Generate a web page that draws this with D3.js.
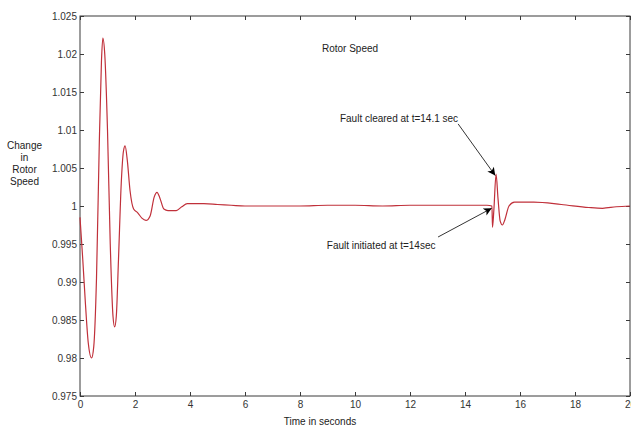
<!DOCTYPE html>
<html><head><meta charset="utf-8">
<script src="https://cdn.jsdelivr.net/npm/d3@7"></script>
<style>
html,body{margin:0;padding:0;background:#fff;overflow:hidden;}
text{font-family:"Liberation Sans",Arial,sans-serif;}
</style></head>
<body>
<svg id="c" width="631" height="427"></svg>
<script>
const timeValues = [0,0.1,0.2,0.3,0.42,0.5,0.6,0.7,0.78,0.83,0.9,1.0,1.1,1.2,1.26,1.32,1.4,1.5,1.58,1.64,1.72,1.82,1.95,2.1,2.25,2.4,2.55,2.7,2.8,2.9,3.05,3.2,3.5,3.7,3.9,4.5,5.0,5.5,6,7,8,9,10,11,12,13,14,14.8,14.98,15.0,15.05,15.13,15.2,15.28,15.36,15.45,15.6,15.8,16.5,17.5,18.5,19.0,19.5,20];
const speedValues = [0.9985,0.993,0.987,0.982,0.980,0.9815,0.9905,1.008,1.019,1.0221,1.020,1.010,0.995,0.9855,0.9841,0.9855,0.993,1.003,1.0072,1.0079,1.006,1.002,0.9996,0.9991,0.9984,0.9981,0.9987,1.0012,1.0018,1.0011,0.9996,0.9994,0.9994,0.9999,1.0003,1.0003,1.0002,1.0001,1.0,1.0,1.0,1.0001,1.0001,1.0,1.0001,1.0001,1.0001,1.0001,1.0,0.9972,0.9995,1.0042,1.001,0.998,0.9975,0.9982,1.0,1.0005,1.0005,1.0002,0.9998,0.9997,0.9999,1.0];
const xTickValues = [0,2,4,6,8,10,12,14,16,18,20];
const yTickValues = [0.975,0.98,0.985,0.99,0.995,1,1.005,1.01,1.015,1.02,1.025];
const yLabelLines = ["Change","in","Rotor","Speed"];
const annotTexts = ["Fault cleared at t=14.1 sec","Fault initiated at t=14sec"];
const annotTextPos = [[11.6,1.0111],[10.95,0.99434]];
const annotArrowFrom = [[13.75,1.0108],[13.02,0.99592]];
const annotArrowTo = [[15.1,1.0040],[14.97,0.9997]];

const W=631,H=427, m={l:80,t:16,r:1,b:31};
const svg=d3.select("#c");
const x=d3.scaleLinear().domain([0,20]).range([m.l,W-m.r]);
const y=d3.scaleLinear().domain([0.975,1.025]).range([H-m.b,m.t]);
const axisColor="#3a3a3a";

// frame
svg.append("rect").attr("x",x(0)).attr("y",y(1.025)).attr("width",x(20)-x(0)).attr("height",y(0.975)-y(1.025))
  .attr("fill","none").attr("stroke",axisColor).attr("stroke-width",1);

function styleAxis(g,showLabels){
  g.select(".domain").remove();
  g.selectAll("line").attr("stroke",axisColor);
  g.selectAll("text").attr("fill","#333").style("font-size","10px").style("font-family","'Liberation Sans',Arial,sans-serif");
  if(!showLabels) g.selectAll("text").remove();
}
svg.append("g").attr("transform",`translate(0,${y(0.975)})`)
  .call(d3.axisBottom(x).tickValues(xTickValues).tickSize(-4).tickPadding(5).tickFormat(d=>String(d)))
  .call(g=>styleAxis(g,true));
svg.append("g").attr("transform",`translate(0,${y(1.025)})`)
  .call(d3.axisTop(x).tickValues(xTickValues).tickSize(-4))
  .call(g=>styleAxis(g,false));
svg.append("g").attr("transform",`translate(${x(0)},0)`)
  .call(d3.axisLeft(y).tickValues(yTickValues).tickSize(-4).tickPadding(3).tickFormat(d=>String(+d.toFixed(3))))
  .call(g=>styleAxis(g,true));
svg.append("g").attr("transform",`translate(${x(20)},0)`)
  .call(d3.axisRight(y).tickValues(yTickValues).tickSize(-4))
  .call(g=>styleAxis(g,false));

// line
const data=timeValues.map((t,i)=>[t,speedValues[i]]);
svg.append("path").datum(data)
  .attr("d",d3.line().x(d=>x(d[0])).y(d=>y(d[1])).curve(d3.curveMonotoneX))
  .attr("fill","none").attr("stroke","#c0303a").attr("stroke-width",1.2);

// title & labels
svg.append("text").attr("x",350).attr("y",52).attr("text-anchor","middle").attr("fill","#222").style("font-size","10px").text("Rotor Speed");
svg.append("text").attr("x",320).attr("y",425).attr("text-anchor","middle").attr("fill","#222").style("font-size","10px").text("Time in seconds");
yLabelLines.forEach((s,i)=>{
  svg.append("text").attr("x",24.5).attr("y",148.5+i*12).attr("text-anchor","middle").attr("fill","#222").style("font-size","10px").text(s);
});

// arrows
const defs=svg.append("defs");
defs.append("marker").attr("id","ah").attr("viewBox","0 0 10 10").attr("refX",10).attr("refY",5)
  .attr("markerWidth",11).attr("markerHeight",8).attr("markerUnits","userSpaceOnUse").attr("orient","auto")
  .append("path").attr("d","M0,0 L10,5 L0,10 L2.5,5 Z").attr("fill","#000");
annotTexts.forEach((s,i)=>{
  svg.append("text").attr("x",x(annotTextPos[i][0])).attr("y",y(annotTextPos[i][1])).attr("text-anchor","middle")
    .attr("fill","#222").style("font-size","10px").text(s);
  svg.append("line").attr("x1",x(annotArrowFrom[i][0])).attr("y1",y(annotArrowFrom[i][1]))
    .attr("x2",x(annotArrowTo[i][0])).attr("y2",y(annotArrowTo[i][1]))
    .attr("stroke","#000").attr("stroke-width",0.8).attr("marker-end","url(#ah)");
});
</script>
</body></html>
